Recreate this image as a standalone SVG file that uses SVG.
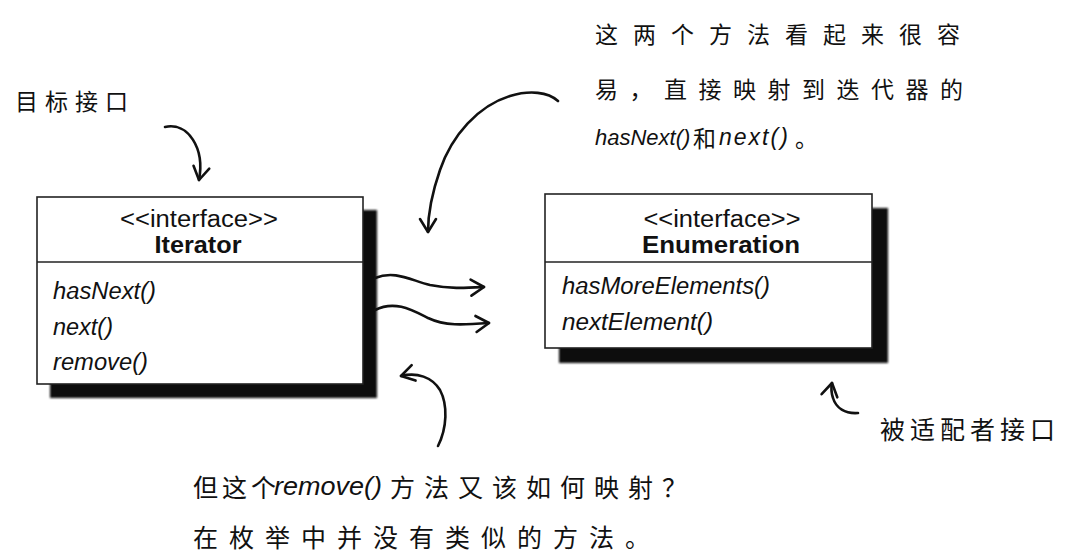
<svg xmlns="http://www.w3.org/2000/svg" width="1068" height="557" viewBox="0 0 1068 557">
<defs>
<style>
.box{fill:#fff;stroke:#222;stroke-width:1.6}
.shadow{fill:#0a0a0a}
.div{stroke:#222;stroke-width:1.6}
.hd{font-family:"Liberation Sans",Arial,sans-serif;font-size:23px;fill:#111;text-anchor:middle}
.bold{font-weight:bold}
.m{font-family:"Liberation Sans",Arial,sans-serif;font-size:23px;font-style:italic;fill:#111}
.cn{font-family:"Noto Sans CJK SC","Noto Sans CJK TC",sans-serif;fill:#111}
.hw{font-family:"Liberation Sans",Arial,sans-serif;font-style:italic;fill:#111}
.arr{fill:none;stroke:#111;stroke-width:2.6;stroke-linecap:round;stroke-linejoin:round}
</style>
<filter id="soft" x="-5%" y="-5%" width="110%" height="110%"><feGaussianBlur stdDeviation="0.8"/></filter>
<marker id="head" markerUnits="userSpaceOnUse" markerWidth="20" markerHeight="20" viewBox="0 0 20 20" refX="17" refY="10" orient="auto">
<path d="M4,2 L17,10 L4,18" fill="none" stroke="#111" stroke-width="2.6" stroke-linecap="round" stroke-linejoin="round"/>
</marker>
</defs>
<rect width="1068" height="557" fill="#fff"/>

<g id="iterator">
<rect class="shadow" x="50" y="210" width="327" height="188" filter="url(#soft)"/>
<rect class="box" x="37" y="197" width="326" height="187"/>
<line class="div" x1="37" y1="262" x2="363" y2="262"/>
<text class="hd" x="199" y="227" textLength="158" lengthAdjust="spacingAndGlyphs">&lt;&lt;interface&gt;&gt;</text>
<text class="hd bold" x="198" y="253" textLength="87" lengthAdjust="spacingAndGlyphs">Iterator</text>
<text class="m" x="53" y="299" textLength="103" lengthAdjust="spacingAndGlyphs">hasNext()</text>
<text class="m" x="53" y="335" textLength="60" lengthAdjust="spacingAndGlyphs">next()</text>
<text class="m" x="53" y="370" textLength="95" lengthAdjust="spacingAndGlyphs">remove()</text>
</g>

<g id="enumeration">
<rect class="shadow" x="559" y="208" width="329" height="155" filter="url(#soft)"/>
<rect class="box" x="545" y="194" width="327" height="154"/>
<line class="div" x1="545" y1="262" x2="872" y2="262"/>
<text class="hd" x="722" y="227" textLength="157" lengthAdjust="spacingAndGlyphs">&lt;&lt;interface&gt;&gt;</text>
<text class="hd bold" x="721" y="253" textLength="158" lengthAdjust="spacingAndGlyphs">Enumeration</text>
<text class="m" x="562" y="294" textLength="208" lengthAdjust="spacingAndGlyphs">hasMoreElements()</text>
<text class="m" x="562" y="330" textLength="151" lengthAdjust="spacingAndGlyphs">nextElement()</text>
</g>

<g id="label-target">
<text class="cn" x="15" y="110" font-size="23" letter-spacing="7">目标接口</text>
</g>

<g id="label-easy">
<text class="cn" x="595" y="43" font-size="23" letter-spacing="15">这两个方法看起来很容</text>
<text class="cn" x="595" y="98" font-size="23" letter-spacing="11.5">易，直接映射到迭代器的</text>
<text class="hw" x="595" y="145" font-size="22">hasNext()</text>
<text class="cn" x="693" y="147" font-size="23">和</text>
<text class="hw" x="719" y="145" font-size="23" letter-spacing="2">next()</text>
<text class="cn" x="795" y="147" font-size="23">。</text>
</g>

<g id="label-adaptee">
<text class="cn" x="880" y="439" font-size="25" letter-spacing="5">被适配者接口</text>
</g>

<g id="label-remove">
<text class="cn" x="193" y="497" font-size="25" letter-spacing="4">但这个</text>
<text class="hw" x="274" y="495" font-size="25" textLength="108" lengthAdjust="spacingAndGlyphs">remove()</text>
<text class="cn" x="390" y="497" font-size="25" letter-spacing="9">方法又该如何映射？</text>
<text class="cn" x="193" y="547" font-size="25" letter-spacing="11">在枚举中并没有类似的方法。</text>
</g>

<g id="connectors">
<path class="arr" d="M165,127 C188,122 205,148 199,180" marker-end="url(#head)"/>
<path class="arr" d="M558,101 C548,92 530,90 510,96 C478,106 452,135 440,170 C432,193 428,212 428,232" marker-end="url(#head)"/>
<path class="arr" d="M375,278 C395,270 410,280 430,285 C450,289 465,288 484,287" marker-end="url(#head)"/>
<path class="arr" d="M375,310 C395,300 412,310 428,318 C445,326 462,325 489,323" marker-end="url(#head)"/>
<path class="arr" d="M438,446 C447,428 448,405 440,390 C432,377 417,372 401,376" marker-end="url(#head)"/>
<path class="arr" d="M858,413 C845,414 836,408 833,398 C831,392 831,388 832,383" marker-end="url(#head)"/>
</g>
</svg>
